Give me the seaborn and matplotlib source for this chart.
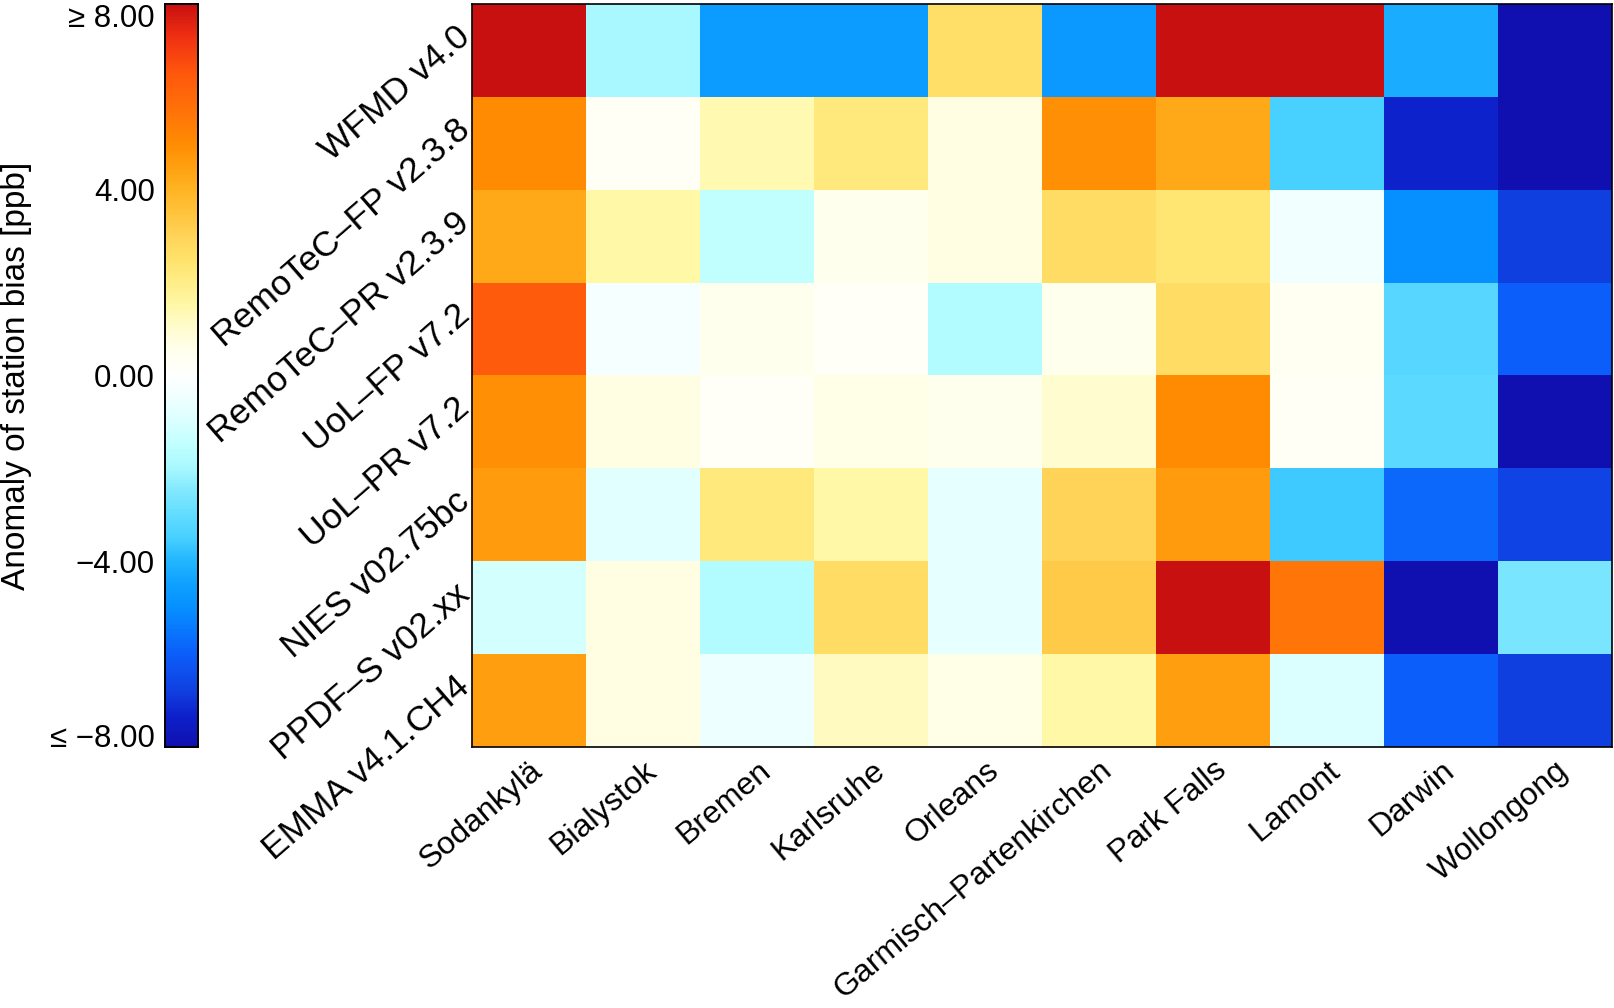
import numpy as np
import pandas as pd
import seaborn as sns
import matplotlib
matplotlib.use("Agg")
import matplotlib.pyplot as plt
import matplotlib.transforms as mtransforms
from matplotlib.colors import LinearSegmentedColormap

products = ["WFMD v4.0", "RemoTeC–FP v2.3.8", "RemoTeC–PR v2.3.9", "UoL–FP v7.2",
            "UoL–PR v7.2", "NIES v02.75bc", "PPDF–S v02.xx", "EMMA v4.1.CH4"]
stations = ["Sodankylä", "Bialystok", "Bremen", "Karlsruhe", "Orleans",
            "Garmisch–Partenkirchen", "Park Falls", "Lamont", "Darwin", "Wollongong"]

wfmd       = [9.0, -2.0, -4.6, -4.6, 2.6, -4.7, 9.0, 9.0, -4.2, -8.5]
remotec_fp = [5.0, 0.3, 1.4, 2.2, 0.7, 4.9, 4.3, -3.5, -7.3, -8.2]
remotec_pr = [4.3, 1.5, -1.5, 0.5, 0.7, 2.7, 2.4, -0.4, -5.0, -6.8]
uol_fp     = [6.4, -0.3, 0.5, 0.2, -1.8, 0.5, 2.7, 0.4, -3.2, -6.0]
uol_pr     = [4.9, 0.7, 0.2, 0.6, 0.5, 1.0, 5.0, 0.3, -3.1, -8.3]
nies       = [4.6, -0.8, 2.2, 1.5, -0.7, 3.0, 4.6, -3.6, -5.8, -6.7]
ppdf       = [-1.1, 0.7, -1.8, 2.7, -0.7, 3.3, 9.0, 5.6, -8.3, -2.6]
emma       = [4.5, 0.7, -0.5, 1.2, 0.6, 1.5, 4.5, -1.0, -6.0, -6.8]

cbar_ticks = [-8, -4, 0, 4, 8]
cbar_ticklabels = ["≤ −8.00", "−4.00", "0.00", "4.00", "≥ 8.00"]

df = pd.DataFrame([wfmd, remotec_fp, remotec_pr, uol_fp, uol_pr, nies, ppdf, emma],
                  index=products, columns=stations)

stops = [(-8.0, "#1010B0"), (-7.3, "#0E22CC"), (-6.8, "#1040E0"), (-6.0, "#0C5EFA"),
         (-5.0, "#0690FF"), (-4.5, "#0EA0FF"), (-4.0, "#22B6FF"), (-3.5, "#48D0FF"),
         (-3.0, "#62DCFF"), (-2.5, "#80E8FF"), (-2.0, "#A8F8FF"), (-1.5, "#C0FFFF"),
         (-1.0, "#DAFFFF"), (-0.5, "#EEFFFF"), (0.0, "#FFFFFF"), (0.5, "#FFFFEE"),
         (1.0, "#FFFCD0"), (1.5, "#FFF8A8"), (2.0, "#FFEE88"), (2.5, "#FFE26C"),
         (3.0, "#FFD458"), (3.5, "#FFC43C"), (4.0, "#FFB424"), (4.5, "#FFA010"),
         (5.0, "#FF8C02"), (5.6, "#FF7608"), (6.5, "#FF580C"), (7.3, "#F03012"),
         (8.0, "#C81010")]
cmap = LinearSegmentedColormap.from_list(
    "bias", [((v + 8) / 16, c) for v, c in stops], N=512)

sns.set_theme(style="white")
plt.rcParams['font.family'] = ['Liberation Sans', 'DejaVu Sans']
plt.rcParams['text.color'] = 'black'
plt.rcParams['axes.labelcolor'] = 'black'
plt.rcParams['xtick.color'] = 'black'
plt.rcParams['ytick.color'] = 'black'

fig = plt.figure(figsize=(16.14, 10.08), dpi=100)
ax = fig.add_axes([0.2925, 0.259, 0.7063, 0.737])
cax = fig.add_axes([0.102, 0.259, 0.0205, 0.737])

sns.heatmap(df, ax=ax, cbar_ax=cax, cmap=cmap, vmin=-8, vmax=8, linewidths=0,
            cbar_kws={"ticks": cbar_ticks})

for s in ax.spines.values():
    s.set_visible(True)
    s.set_color("black")
    s.set_linewidth(1.2)

ax.tick_params(axis="both", length=0)
ax.tick_params(axis="x", pad=6)
ax.tick_params(axis="y", pad=5)
ax.set_xticklabels(stations, rotation=40, ha="right", va="top",
                   rotation_mode="anchor", fontsize=23, color="black")
ylabs = ax.set_yticklabels(products, rotation=41, ha="right", va="center",
                           rotation_mode="anchor", fontsize=25.5, color="black")
shift = mtransforms.ScaledTranslation(0, 0.18, fig.dpi_scale_trans)
for t in ylabs:
    t.set_transform(t.get_transform() + shift)
ax.set_xlabel("")
ax.set_ylabel("")

cax.yaxis.set_ticks_position("both")
cax.tick_params(axis="y", direction="in", left=True, right=True,
                labelleft=True, labelright=False, length=7, width=1.2,
                labelsize=22.5, pad=7, colors="black")
cax.set_yticks(cbar_ticks)
labs = cax.set_yticklabels(cbar_ticklabels)
labs[0].set_va("baseline")
labs[-1].set_va("top")
for s in cax.spines.values():
    s.set_visible(True)
    s.set_color("black")
    s.set_linewidth(1.2)
cax.set_ylabel("Anomaly of station bias [ppb]", fontsize=24, color="black")
cax.yaxis.set_label_position("left")
cax.yaxis.set_label_coords(-4.0, 0.5)

fig.savefig("out.png", dpi=100)
